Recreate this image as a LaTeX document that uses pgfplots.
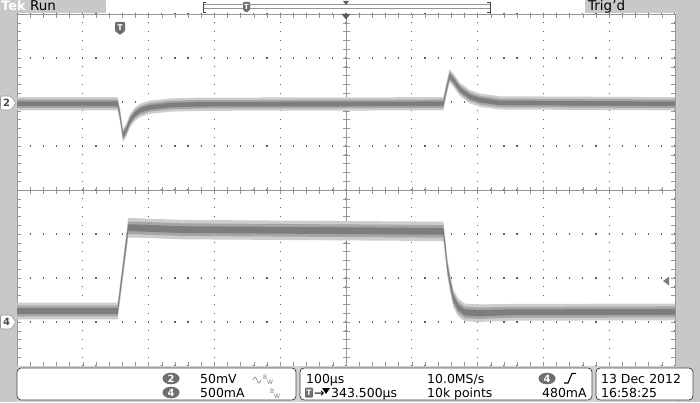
\documentclass[border=0pt]{standalone}
\usepackage{fontspec}
\setmainfont{DejaVu Sans}
\usepackage{pgfplots}
\pgfplotsset{compat=1.18}
\usepackage{pgfplotstable}
\usepgfplotslibrary{fillbetween}

\definecolor{scopegray}{RGB}{200,200,200}
\definecolor{bottomgray}{RGB}{210,210,210}
\definecolor{framec}{RGB}{150,150,150}
\definecolor{griddot}{RGB}{95,95,95}
\definecolor{trA}{RGB}{205,205,205}
\definecolor{trB}{RGB}{165,165,165}
\definecolor{trC}{RGB}{125,125,125}
\definecolor{badge}{RGB}{110,110,110}
\definecolor{boxline}{RGB}{70,70,70}

% Channel 2 (50 mV/div), centre of trace and half-width of noise band, in divisions
\pgfplotstableread{
x c w
0.00 1.96 0.15
1.53 1.96 0.15
1.565 1.70 0.15
1.61 1.24 0.15
1.66 1.36 0.15
1.72 1.58 0.15
1.79 1.72 0.15
1.87 1.81 0.15
2.02 1.88 0.15
2.33 1.93 0.15
2.80 1.95 0.15
6.48 1.96 0.15
6.52 2.25 0.15
6.575 2.60 0.15
6.63 2.50 0.15
6.73 2.29 0.15
6.88 2.12 0.15
7.04 2.04 0.15
7.34 1.98 0.15
10.00 1.96 0.15
}\chtwo

% Channel 4 (500 mA/div)
\pgfplotstableread{
x c w
0.00 -2.75 0.19
1.53 -2.75 0.19
1.69 -0.86 0.22
1.78 -0.86 0.22
2.50 -0.90 0.22
6.48 -0.94 0.22
6.50 -1.20 0.21
6.54 -1.75 0.20
6.58 -2.10 0.20
6.63 -2.45 0.20
6.70 -2.66 0.20
6.80 -2.78 0.20
7.00 -2.80 0.20
7.50 -2.78 0.19
10.00 -2.77 0.19
}\chfour

\newcommand{\band}[4]{%
  \addplot[draw=none, name path=u#4] table[x=x, y expr=\thisrow{c}+#2*\thisrow{w}]{#1};
  \addplot[draw=none, name path=l#4] table[x=x, y expr=\thisrow{c}-#2*\thisrow{w}]{#1};
  \addplot[fill=#3, draw=none] fill between[of=u#4 and l#4];
}

\begin{document}
\begin{tikzpicture}[x=1bp,y=1bp]
\fill[bottomgray] (0,0) rectangle (700,36);
\fill[scopegray] (0,0) rectangle (16.5,402);
\fill[scopegray] (675.5,0) rectangle (700,402);
\fill[scopegray] (0,389) rectangle (106,402);
\fill[scopegray] (585,389) rectangle (700,402);

% centre cross with ticks
\begin{axis}[at={(17bp,36bp)}, anchor=south west, scale only axis,
  set layers,
  width=658bp, height=352bp,
  xmin=-5, xmax=5, ymin=-4, ymax=4,
  axis lines=middle,
  axis line style={-, draw=framec, line width=0.6bp},
  every inner x axis line/.append style={-},
  every inner y axis line/.append style={-},
  xtick={-5,...,5}, ytick={-4,...,4},
  minor x tick num=4, minor y tick num=4,
  tick align=center, major tick length=7bp, minor tick length=7bp,
  tick style={draw=framec, line width=0.5bp},
  xticklabels={}, yticklabels={}]
\end{axis}

% graticule and traces
\begin{axis}[at={(17bp,36bp)}, anchor=south west, scale only axis,
  set layers,
  width=658bp, height=352bp,
  xmin=0, xmax=10, ymin=-4, ymax=4,
  axis background/.style={fill=white},
  axis line style={draw=framec, line width=0.7bp},
  xtick={0,...,10}, ytick={-4,...,4},
  minor x tick num=4, minor y tick num=4,
  xtick pos=both, ytick pos=both,
  tick align=inside, major tick length=4bp, minor tick length=4bp,
  tick style={draw=framec, line width=0.5bp},
  xticklabels={}, yticklabels={},
  xmajorgrids, ymajorgrids,
  every axis x grid/.append style={draw=griddot, line width=1.2bp, dash pattern=on 1.2bp off 7.6bp, dash phase=0.6bp},
  every axis y grid/.append style={draw=griddot, line width=1.2bp, dash pattern=on 1.2bp off 11.96bp, dash phase=0.6bp}]
\band{\chtwo}{1}{trA}{a}
\band{\chtwo}{0.65}{trB}{b}
\band{\chtwo}{0.35}{trC}{c}
\band{\chfour}{1}{trA}{d}
\band{\chfour}{0.65}{trB}{e}
\band{\chfour}{0.35}{trC}{f}
\end{axis}

% top bar
\node[anchor=base west, inner sep=0, text=white, font=\fontsize{13}{13}\selectfont\bfseries] at (1,391) {Tek};
\node[anchor=base west, inner sep=0, font=\fontsize{13.5}{13.5}\selectfont] at (30,391) {Run};
\node[anchor=base west, inner sep=0, font=\fontsize{13.5}{13.5}\selectfont] at (588,391) {Trig'd};
\draw[framec, line width=0.6bp] (203,397.5) rectangle (490,393.5);
\draw[boxline, line width=0.7bp] (206,400)--(203,400)--(203,390)--(206,390);
\draw[boxline, line width=0.7bp] (487,400)--(490,400)--(490,390)--(487,390);
\fill[badge, rounded corners=0.8bp] (243,400)--(250,400)--(250,392)--(246.5,389.5)--(243,392)--cycle;
\node[text=white, inner sep=0, font=\fontsize{7}{7}\selectfont\bfseries] at (246.5,395.5) {T};
\fill[griddot] (343,401)--(349,401)--(346,397)--cycle;

% trigger position and trigger marker
\fill[griddot] (341.5,388)--(350.5,388)--(346,382.5)--cycle;
\fill[badge, rounded corners=1bp] (115,380)--(125,380)--(125,371)--(120,367)--(115,371)--cycle;
\node[text=white, inner sep=0, font=\fontsize{8}{8}\selectfont\bfseries] at (120,374.5) {T};

% channel ground markers
\filldraw[fill=white, draw=framec, line width=0.6bp, rounded corners=1.5bp] (0.5,306)--(11,306)--(16,299)--(11,292)--(0.5,292)--cycle;
\node[text=boxline, inner sep=0, font=\fontsize{10}{10}\selectfont\bfseries] at (6.5,299) {2};
\filldraw[fill=white, draw=framec, line width=0.6bp, rounded corners=1.5bp] (0.5,87)--(11,87)--(16,80)--(11,73)--(0.5,73)--cycle;
\node[text=boxline, inner sep=0, font=\fontsize{10}{10}\selectfont\bfseries] at (6.5,80) {4};
% trigger level
\fill[trC] (663,121)--(669,125.5)--(669,116.5)--cycle;

% bottom readout boxes
\filldraw[fill=white, draw=boxline, line width=0.8bp, rounded corners=4bp] (17,2) rectangle (296,34);
\filldraw[fill=white, draw=boxline, line width=0.8bp, rounded corners=4bp] (300,2) rectangle (592,34);
\filldraw[fill=white, draw=boxline, line width=0.8bp, rounded corners=4bp] (596,2) rectangle (693,34);

\begin{scope}[every node/.style={anchor=base west, inner sep=0, font=\fontsize{12.5}{12.5}\selectfont}]
\fill[badge] (171,23.5) ellipse (8.5bp and 5.8bp);
\node[anchor=center, text=white, font=\fontsize{10}{10}\selectfont\bfseries] at (171,23.5) {2};
\node at (200,19) {50mV};
\draw[trC, line width=0.6bp] (253,22) sin (255,25) cos (257,22) sin (259,19) cos (261,22);
\node[text=trC, font=\fontsize{6}{6}\selectfont] at (263,23) {B};
\node[text=trC, font=\fontsize{6}{6}\selectfont] at (267,18) {W};
\fill[badge] (171,9.5) ellipse (8.5bp and 5.8bp);
\node[anchor=center, text=white, font=\fontsize{10}{10}\selectfont\bfseries] at (171,9.5) {4};
\node at (200,5) {500mA};
\node[text=trC, font=\fontsize{6}{6}\selectfont] at (270,9) {B};
\node[text=trC, font=\fontsize{6}{6}\selectfont] at (274,4) {W};

\node at (306,19) {100µs};
\node at (427,19) {10.0MS/s};
\fill[badge] (547,23.5) ellipse (8.5bp and 5.8bp);
\node[anchor=center, text=white, font=\fontsize{10}{10}\selectfont\bfseries] at (547,23.5) {4};
\draw[black, line width=1.1bp] (564,19)--(568,19)--(572,28.5)--(576,28.5);
\fill[badge, rounded corners=1bp] (305,4.5) rectangle (313,14.5);
\node[anchor=center, text=white, font=\fontsize{7.5}{7.5}\selectfont\bfseries] at (309,9.5) {T};
\node at (314,5) {→};
\fill[black] (322,14)--(330,14)--(326,8)--cycle;
\node at (331,5) {343.500µs};
\node at (427,5) {10k points};
\node at (542,5) {480mA};

\node at (601,19) {13 Dec\,\,2012};
\node at (601,5) {16:58:25};
\end{scope}
\end{tikzpicture}
\end{document}
